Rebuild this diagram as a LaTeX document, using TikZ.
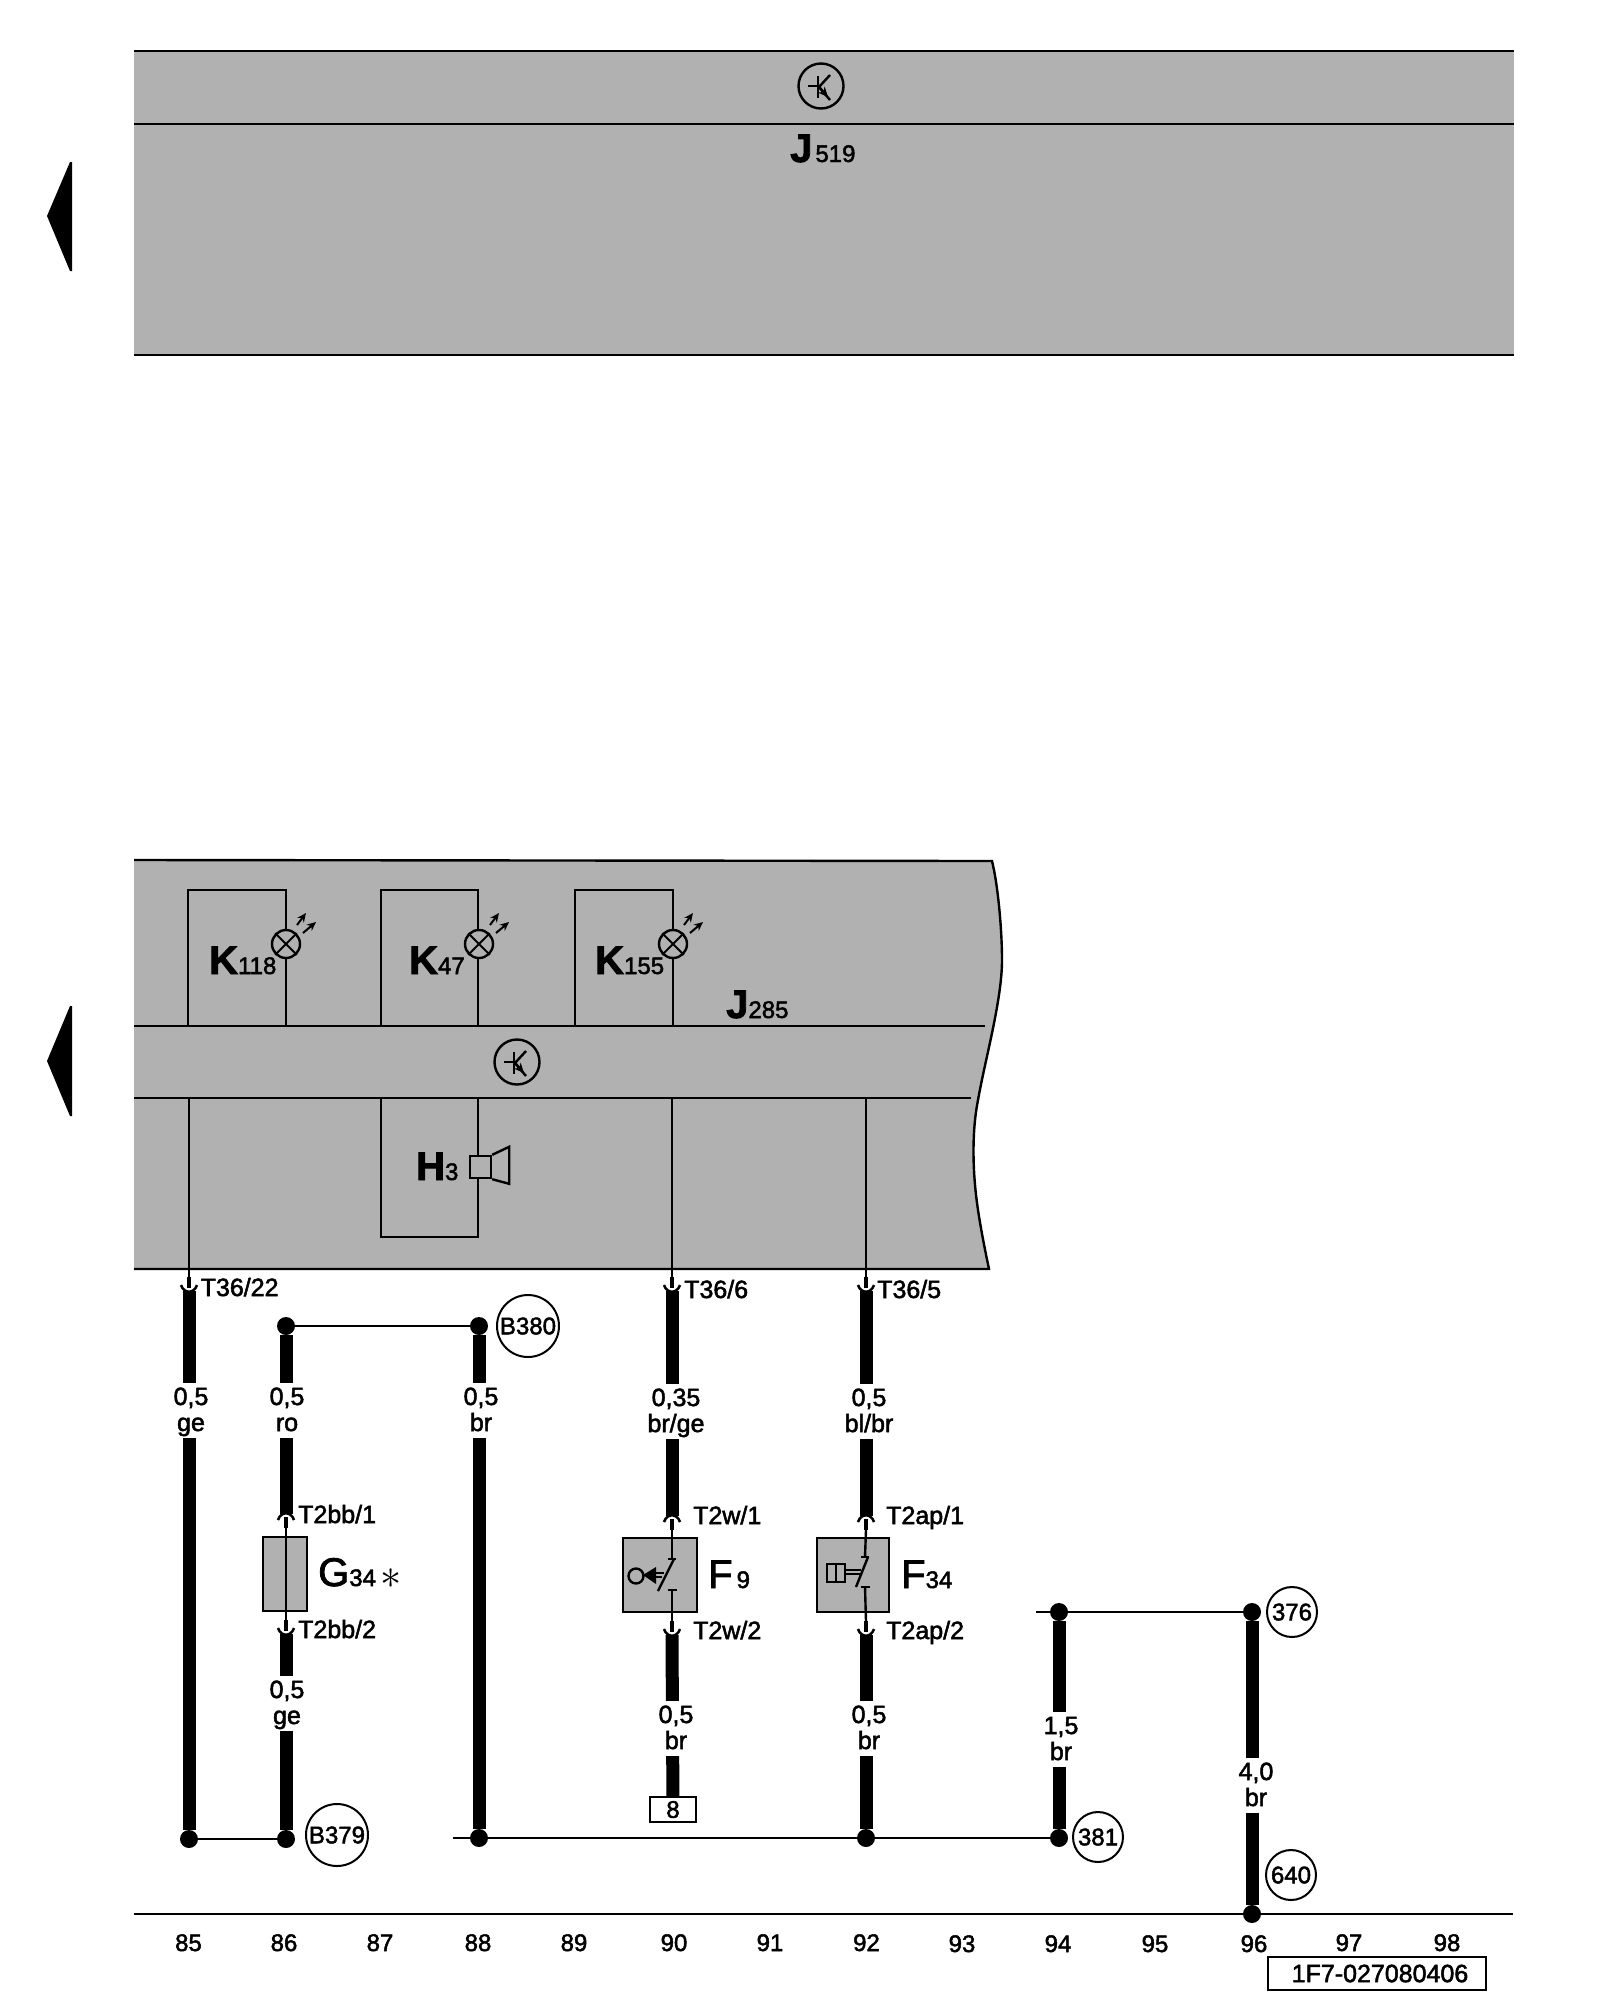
\documentclass[tikz,border=0pt]{standalone}
\usepackage{fontspec}
\setmainfont{Liberation Sans}[FakeBold=2]
\usetikzlibrary{arrows.meta,calc}
\definecolor{panel}{RGB}{177,177,177}
\newcommand{\subnum}[1]{{\fontsize{24}{24}\mdseries\selectfont #1}}
\newcommand{\wl}[2]{\raisebox{-2pt}[18pt][0pt]{#1}\\\raisebox{-2pt}[0pt][6pt]{#2}}
\tikzset{
  line/.style={line width=2.4pt},
  wire/.style={line width=13pt},
  dot/.style={circle,fill=black,minimum size=18pt,inner sep=0pt},
  wirelbl/.style={fill=white,inner sep=0pt,align=center,minimum height=55pt,font=\fontsize{25}{26}\selectfont},
  pinlbl/.style={anchor=base west,inner sep=0pt,font=\fontsize{25}{26}\selectfont},
  collbl/.style={anchor=base,inner sep=0pt,font=\fontsize{24}{26}\selectfont},
  partlbl/.style={anchor=base west,inner sep=0pt,font=\fontsize{40}{42}\selectfont},
  refcirc/.style={draw,circle,line width=2pt,inner sep=0pt,minimum size=#1,font=\fontsize{24}{26}\selectfont},
  loopbox/.style={draw,line,inner sep=0pt,outer sep=0pt},
  partbox/.style={draw,line,fill=panel,inner sep=0pt,minimum width=#1,minimum height=74pt},
  pindown/.pic={
    \coordinate (-in) at (0,-14);
    \coordinate (-out) at (0,0);
    \path[draw,line width=4.5pt] (0,-14) -- (0,-3);
    \path[draw,line width=2.5pt] (-8,-6) .. controls (-5,3) and (5,3) .. (8,-6);
  },
  pinup/.pic={
    \coordinate (-in) at (0,14);
    \coordinate (-out) at (0,0);
    \path[draw,line width=4.5pt] (0,14) -- (0,3);
    \path[draw,line width=2.5pt] (-8,6) .. controls (-5,-3) and (5,-3) .. (8,6);
  },
  lamp/.pic={
    \node[draw,line,circle,fill=panel,inner sep=0pt,minimum size=28pt] (-c) at (0,0) {};
    \path[draw,line width=1.8pt] (-c.45) -- (-c.225);
    \path[draw,line width=1.8pt] (-c.135) -- (-c.315);
    \path[draw,line width=2pt,-{Stealth[length=9pt,width=8pt]}] (11,-19) -- (20,-31);
    \path[draw,line width=2pt,-{Stealth[length=9pt,width=8pt]}] (17,-11) -- (30,-22);
  },
  trans/.pic={
    \node[draw,line,circle,inner sep=0pt,minimum size=45pt] (-c) at (0,0) {};
    \path[draw,line] (-13,0) -- (-3,0);
    \path[draw,line] (-3,-10) -- (-3,12);
    \path[draw,line] (-2,1) -- (9,-11);
    \path[draw,line] (-2,1) -- (9,14);
    \path[draw,line,-{Stealth[length=10pt,width=9pt]}] (-2,1) -- (7,11);
  }
}
\begin{document}
\begin{tikzpicture}[x=1pt,y=-1pt]
\useasboundingbox (0,0) rectangle (1600,2000);

% page arrows
\path[fill=black] (47,216) -- (70,162) -- (72,162) -- (72,271) -- (70,271) -- cycle;
\path[fill=black] (47,1061) -- (70,1006) -- (72,1006) -- (72,1116) -- (70,1116) -- cycle;

% J519
\node[fill=panel,inner sep=0pt,minimum width=1380pt,minimum height=304pt] (j519) at (824,203) {};
\coordinate (j519l) at (134,124);
\coordinate (j519r) at (1514,124);
\path[draw,line] (j519.north west) -- (j519.north east);
\path[draw,line] (j519l) -- (j519r);
\path[draw,line] (j519.south west) -- (j519.south east);
\pic (t519) at (821,86) {trans};
\node[partlbl] (j519lbl) at (790,162) {\bfseries J\kern3pt\subnum{519}};

% J285
\path[fill=panel] (134,860) -- (992,861) .. controls (998,885) and (1002,930) .. (1002,960)
  .. controls (1002,1000) and (985,1060) .. (978,1100)
  .. controls (972,1130) and (972,1170) .. (978,1210)
  .. controls (981,1230) and (985,1250) .. (989,1269) -- (134,1269) -- cycle;
\path[draw,line] (134,860) -- (992,861) .. controls (998,885) and (1002,930) .. (1002,960)
  .. controls (1002,1000) and (985,1060) .. (978,1100)
  .. controls (972,1130) and (972,1170) .. (978,1210)
  .. controls (981,1230) and (985,1250) .. (989,1269) -- (134,1269);
\coordinate (sec1l) at (134,1026);
\coordinate (sec1r) at (985,1026);
\coordinate (sec2l) at (134,1098);
\coordinate (sec2r) at (971,1098);
\path[draw,line] (sec1l) -- (sec1r);
\path[draw,line] (sec2l) -- (sec2r);
\pic (t285) at (517,1062) {trans};
\node[partlbl] (j285lbl) at (726,1018) {\bfseries J\subnum{285}};

\node[loopbox,minimum width=98pt,minimum height=136pt] (k118) at (237,958) {};
\node[loopbox,minimum width=97pt,minimum height=136pt] (k47) at (429.5,958) {};
\node[loopbox,minimum width=98pt,minimum height=136pt] (k155) at (624,958) {};
\node[loopbox,minimum width=97pt,minimum height=139pt] (h3) at (429.5,1167.5) {};
\pic (l118) at (286,944) {lamp};
\pic (l47) at (479,944) {lamp};
\pic (l155) at (673,944) {lamp};
\node[partlbl] (k118lbl) at (209,974) {\bfseries K\subnum{118}};
\node[partlbl] (k47lbl) at (409,974) {\bfseries K\subnum{47}};
\node[partlbl] (k155lbl) at (595,974) {\bfseries K\subnum{155}};
\node[partlbl] (h3lbl) at (416,1180) {\bfseries H\subnum{3}};
\node[draw,line,fill=panel,inner sep=0pt,minimum width=21pt,minimum height=22pt] (spk) at (480.5,1167) {};
\path[draw,line] (spk.north east) -- ++(17,-8) -- ++(0,37) -- (spk.south east);

% dots and reference circles
\node[dot] (d85) at (189,1839) {};
\node[dot] (d86) at (286,1839) {};
\node[dot] (d86t) at (286,1326) {};
\node[dot] (d88t) at (479,1326) {};
\node[dot] (d88) at (479,1838) {};
\node[dot] (d92) at (866,1838) {};
\node[dot] (d94) at (1059,1838) {};
\node[dot] (d94t) at (1059,1612) {};
\node[dot] (d96t) at (1252,1612) {};
\node[dot] (d96) at (1252,1914) {};
\node[refcirc=62pt] (b380) at (528,1326) {B380};
\node[refcirc=62pt] (b379) at (337,1835) {B379};
\node[refcirc=50pt] (r381) at (1098,1837) {381};
\node[refcirc=50pt] (r376) at (1292,1612) {376};
\node[refcirc=50pt] (r640) at (1291,1875) {640};

% connectors
\pic (p85) at (189,1291) {pindown};
\pic (p90) at (672,1291) {pindown};
\pic (p92) at (866,1291) {pindown};
\pic (p86a) at (286,1514) {pinup};
\pic (p90a) at (672,1516) {pinup};
\pic (p92a) at (866,1516) {pinup};
\pic (p86b) at (286,1634) {pindown};
\pic (p90b) at (672,1635) {pindown};
\pic (p92b) at (866,1635) {pindown};

\coordinate (s85) at (189,1098);
\coordinate (s90) at (672,1098);
\coordinate (s92) at (866,1098);
\path[draw,line] (s85) -- (p85-in);
\path[draw,line] (s90) -- (p90-in);
\path[draw,line] (s92) -- (p92-in);

% parts
\node[partbox=44pt] (g34) at (285,1574) {};
\path[draw,line] (p86a-in) -- (p86b-in);
\node[partlbl] (g34lbl) at (318,1586) {G\subnum{34}};
\node[inner sep=0pt,scale=1.7,font=\fontsize{24}{24}\selectfont] (g34st) at (391,1579) {$\ast$};

\node[partbox=74pt] (f9) at (660,1575) {};
\coordinate (f9a) at (672,1559);
\coordinate (f9b) at (672,1590);
\path[draw,line] (p90a-in) -- (f9a);
\path[draw,line] (f9b) -- (p90b-in);
\path[draw,line] (668,1559) -- (676,1559);
\path[draw,line] (668,1590) -- (677,1590);
\path[draw,line] (658,1591) -- (674,1559);
\path[draw,line width=2pt] (650,1573) -- (664,1573);
\path[draw,line width=2pt] (650,1577) -- (662,1577);
\path[fill=black] (643,1575) -- (656,1567) -- (656,1584) -- cycle;
\node[draw,line,circle,inner sep=0pt,minimum size=15pt] (f9c) at (636,1576) {};
\node[partlbl] (f9lbl) at (708,1588) {F\kern4pt\subnum{9}};

\node[partbox=72pt] (f34) at (853,1575) {};
\coordinate (f34a) at (865,1557);
\coordinate (f34b) at (865,1587);
\path[draw,line] (p92a-in) -- (f34a);
\path[draw,line] (f34b) -- (p92b-in);
\path[draw,line] (861,1557) -- (869,1557);
\path[draw,line] (861,1587) -- (870,1587);
\path[draw,line] (856,1587) -- (868,1557);
\path[draw,line width=2pt] (845,1570) -- (861,1570);
\path[draw,line width=2pt] (845,1574) -- (860,1574);
\node[draw,line,inner sep=0pt,minimum width=18pt,minimum height=18pt] (f34c) at (836,1573) {};
\path[draw,line] (f34c.north) -- (f34c.south);
\node[partlbl] (f34lbl) at (901,1588) {F\subnum{34}};

% wires
\path[draw,wire] (p85-out) -- (d85);
\path[draw,wire] (d86t) -- (p86a-out);
\path[draw,wire] (p86b-out) -- (d86);
\path[draw,wire] (d88t) -- (d88);
\path[draw,wire] (p90-out) -- (p90a-out);
\path[draw,wire] (p92-out) -- (p92a-out);
\path[draw,wire] (p92b-out) -- (d92);
\path[draw,wire] (d94t) -- (d94);
\path[draw,wire] (d96t) -- (d96);
\node[draw,line,fill=white,inner sep=0pt,minimum width=46pt,minimum height=25pt,font=\fontsize{24}{26}\selectfont] (c8) at (673,1809.5) {8};
\path[draw,wire] (p90b-out) -- (c8);

% thin links
\coordinate (busw) at (453,1838);
\coordinate (topw) at (1036,1612);
\path[draw,line] (d85) -- (d86);
\path[draw,line] (d86t) -- (d88t);
\path[draw,line] (busw) -- (d88);
\path[draw,line] (d88) -- (d92);
\path[draw,line] (d92) -- (d94);
\path[draw,line] (topw) -- (d94t);
\path[draw,line] (d94t) -- (d96t);

% wire labels
\node[wirelbl] (w85) at (191,1410) {\wl{0,5}{ge}};
\node[wirelbl] (w86a) at (287,1410) {\wl{0,5}{ro}};
\node[wirelbl] (w86b) at (287,1703) {\wl{0,5}{ge}};
\node[wirelbl] (w88) at (481,1410) {\wl{0,5}{br}};
\node[wirelbl] (w90a) at (676,1411) {\wl{0,35}{br/ge}};
\node[wirelbl] (w92a) at (869,1411) {\wl{0,5}{bl/br}};
\node[wirelbl] (w90b) at (676,1728) {\wl{0,5}{br}};
\node[wirelbl] (w92b) at (869,1728) {\wl{0,5}{br}};
\node[wirelbl] (w94) at (1061,1739) {\wl{1,5}{br}};
\node[wirelbl] (w96) at (1256,1785) {\wl{4,0}{br}};

% pin labels
\node[pinlbl] (t3622) at (200.5,1296) {T36/22};
\node[pinlbl] (t366) at (684,1298) {T36/6};
\node[pinlbl] (t365) at (877,1298) {T36/5};
\node[pinlbl] (t2bb1) at (298,1523) {T2bb/1};
\node[pinlbl] (t2bb2) at (298,1638) {T2bb/2};
\node[pinlbl] (t2w1) at (693,1524) {T2w/1};
\node[pinlbl] (t2w2) at (693,1639) {T2w/2};
\node[pinlbl] (t2ap1) at (886,1524) {T2ap/1};
\node[pinlbl] (t2ap2) at (886,1639) {T2ap/2};

% bottom rail
\coordinate (raill) at (134,1914);
\coordinate (railr) at (1513,1914);
\path[draw,line] (raill) -- (d96);
\path[draw,line] (d96) -- (railr);
\node[collbl] (n85) at (188.5,1951) {85};
\node[collbl] (n86) at (284,1951) {86};
\node[collbl] (n87) at (380,1951) {87};
\node[collbl] (n88) at (478,1951) {88};
\node[collbl] (n89) at (574,1951) {89};
\node[collbl] (n90) at (674,1951) {90};
\node[collbl] (n91) at (770,1951) {91};
\node[collbl] (n92) at (866.5,1951) {92};
\node[collbl] (n93) at (962,1952) {93};
\node[collbl] (n94) at (1058,1952) {94};
\node[collbl] (n95) at (1155,1952) {95};
\node[collbl] (n96) at (1254,1952) {96};
\node[collbl] (n97) at (1349,1951) {97};
\node[collbl] (n98) at (1447,1951) {98};
\node[draw,line,inner sep=0pt,minimum width=218pt,minimum height=33pt,font=\fontsize{25}{26}\selectfont] (code) at (1377,1973.5) {\kern6pt1F7-027080406};
\end{tikzpicture}
\end{document}
